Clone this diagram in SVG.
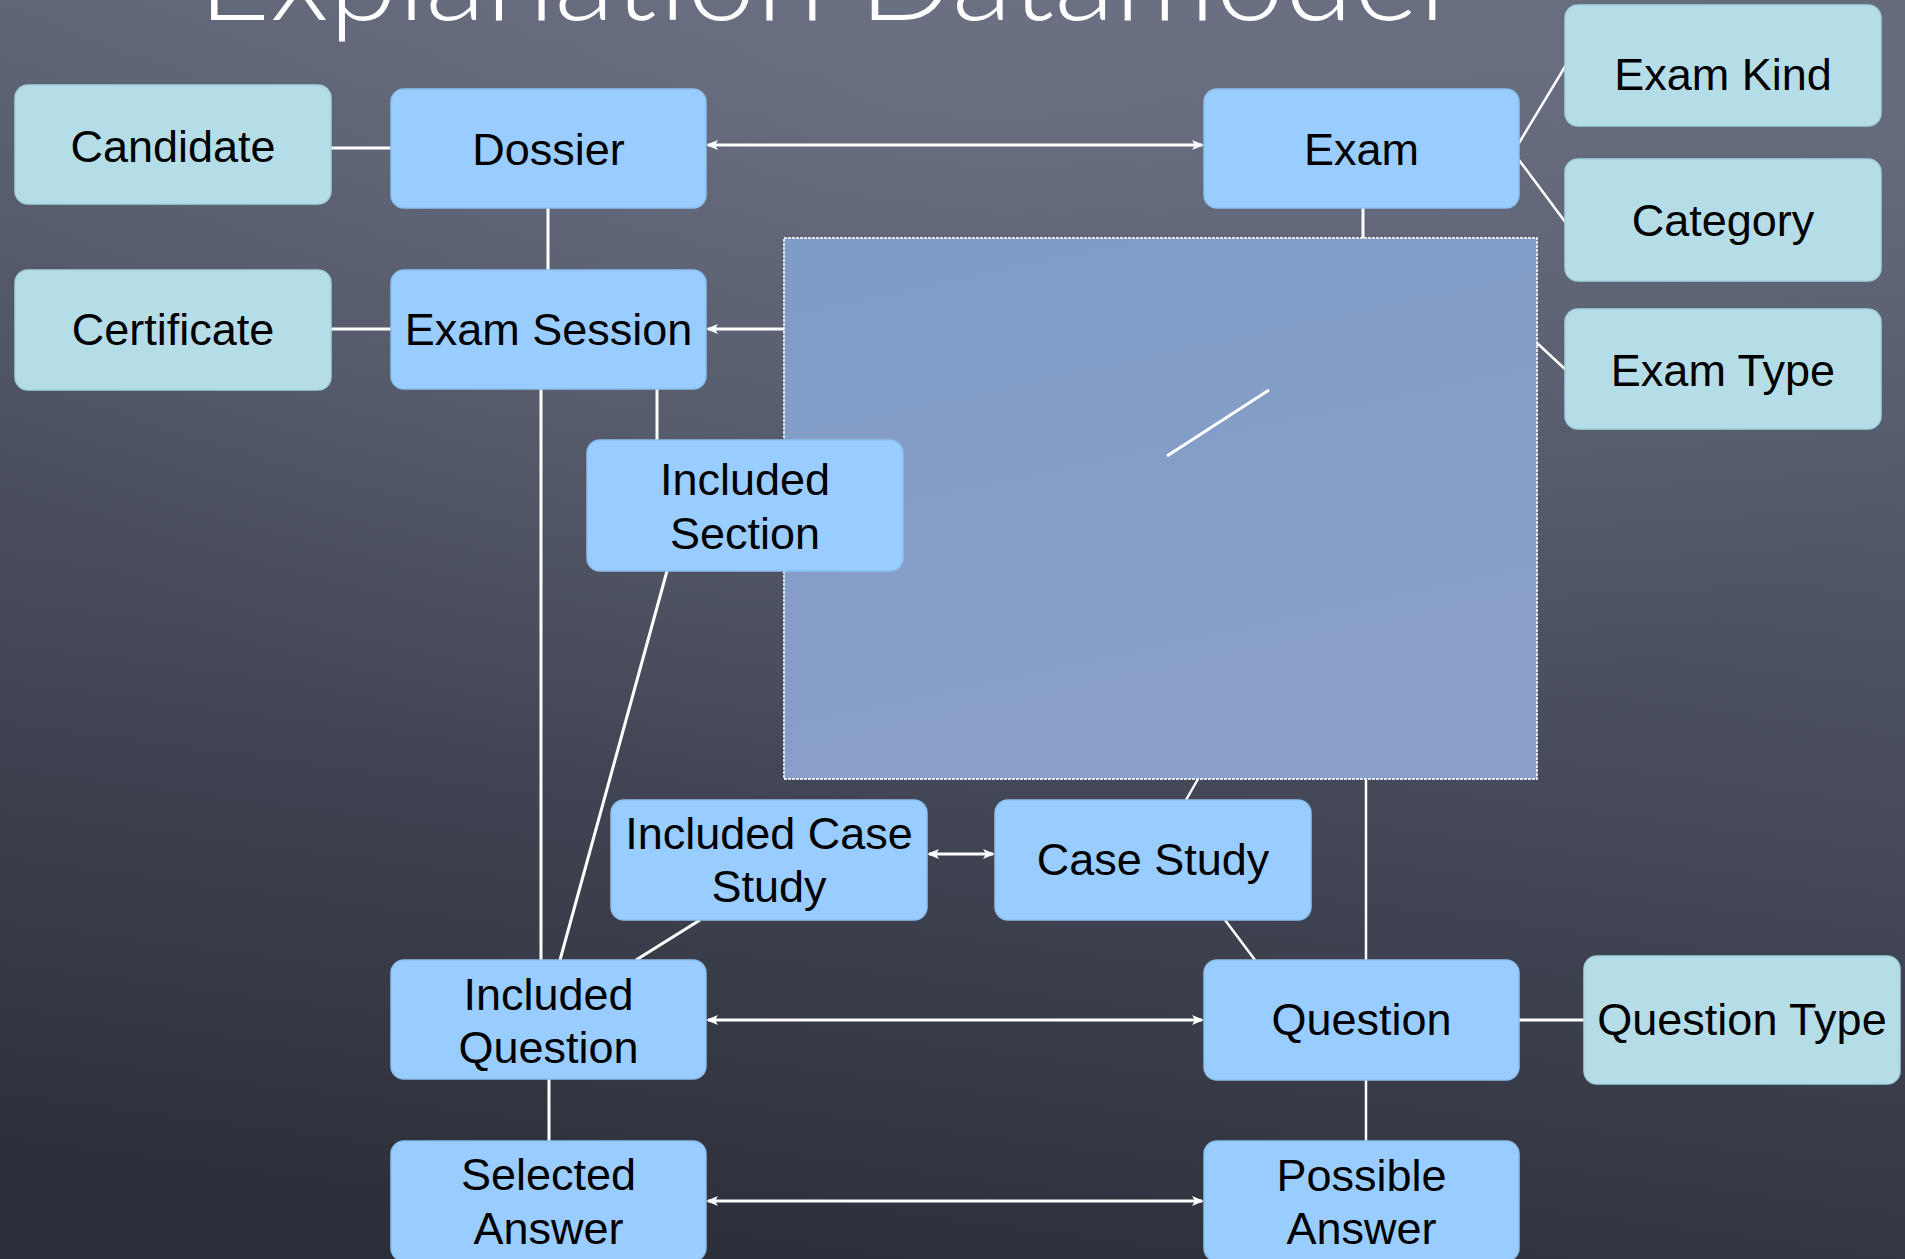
<svg xmlns="http://www.w3.org/2000/svg" width="1905" height="1259" viewBox="0 0 1905 1259">
  <defs>
    <linearGradient id="bg" x1="0.55" y1="0" x2="0.35" y2="1">
      <stop offset="0" stop-color="#646a7c"/>
      <stop offset="0.45" stop-color="#4b5060"/>
      <stop offset="1" stop-color="#2c2f39"/>
    </linearGradient>
    <radialGradient id="glow" cx="0.5" cy="0.05" r="0.6">
      <stop offset="0" stop-color="#7a8092" stop-opacity="0.35"/>
      <stop offset="1" stop-color="#7a8092" stop-opacity="0"/>
    </radialGradient>
    <linearGradient id="panelFill" x1="0" y1="0" x2="0.3" y2="1">
      <stop offset="0" stop-color="#7f9cc6"/>
      <stop offset="1" stop-color="#8a9fc9"/>
    </linearGradient>
    <marker id="arrow" viewBox="0 0 12 10" refX="10" refY="5" markerWidth="12" markerHeight="10" markerUnits="userSpaceOnUse" orient="auto-start-reverse">
      <path d="M0,0 L12,5 L0,10 L3,5 z" fill="#ffffff"/>
    </marker>
    <style>
      .main rect { fill: #99ccff; stroke: #8cc0f0; stroke-width: 1.5; }
      .attr rect { fill: #b5dde7; stroke: #a2d2de; stroke-width: 1.5; }
      .node text { font-family: "Liberation Sans", Arial, sans-serif; font-size: 45px; fill: #000000; text-anchor: middle; }
      .conn line { stroke: #ffffff; stroke-width: 3; fill: none; }
      .conn .thin { stroke-width: 2.5; }
      .arr { marker-end: url(#arrow); }
      .both { marker-start: url(#arrow); marker-end: url(#arrow); }
      .title { font-family: Lato, "Liberation Sans", Arial, sans-serif; font-weight: 300; font-size: 120px; fill: #ffffff; }
    </style>
  </defs>

  <rect x="0" y="0" width="1905" height="1259" fill="url(#bg)"/>
  <rect x="0" y="0" width="1905" height="1259" fill="url(#glow)"/>

  <text class="title" x="198" y="20" textLength="1248" lengthAdjust="spacingAndGlyphs">Explanation Datamodel</text>

  <g id="panel">
    <rect x="784" y="238" width="753" height="541" fill="url(#panelFill)" stroke="#dfe4ee" stroke-width="2" stroke-dasharray="3 1"/>
  </g>

  <g id="connectors" class="conn">
    <line x1="331" y1="148" x2="391" y2="148"/>
    <line class="both" x1="708" y1="145" x2="1202" y2="145"/>
    <line x1="548" y1="208" x2="548" y2="270"/>
    <line x1="331" y1="329" x2="391" y2="329"/>
    <line class="arr" x1="784" y1="329" x2="708" y2="329"/>
    <line x1="1363" y1="208" x2="1363" y2="238"/>
    <line class="thin" x1="1519" y1="143" x2="1566" y2="65"/>
    <line class="thin" x1="1519" y1="160" x2="1566" y2="223"/>
    <line class="thin" x1="1537" y1="343" x2="1566" y2="370"/>
    <line x1="657" y1="389" x2="657" y2="440"/>
    <line x1="541" y1="374" x2="541" y2="960"/>
    <line x1="667" y1="571" x2="560" y2="960"/>
    <line x1="700" y1="920" x2="636" y2="960"/>
    <line class="both" x1="929" y1="854" x2="993" y2="854"/>
    <line class="thin" x1="1198" y1="779" x2="1186" y2="800"/>
    <line class="thin" x1="1225" y1="920" x2="1255" y2="960"/>
    <line class="thin" x1="1366" y1="779" x2="1366" y2="960"/>
    <line class="both" x1="708" y1="1020" x2="1202" y2="1020"/>
    <line x1="1519" y1="1020" x2="1584" y2="1020"/>
    <line x1="549" y1="1079" x2="549" y2="1141"/>
    <line class="thin" x1="1366" y1="1080" x2="1366" y2="1141"/>
    <line class="both" x1="708" y1="1201" x2="1202" y2="1201"/>
    <line x1="1167" y1="456" x2="1269" y2="390"/>
  </g>

  <g id="candidate" class="node attr">
    <rect x="15" y="85" width="316" height="119" rx="13"/>
    <text x="173" y="162">Candidate</text>
  </g>
  <g id="dossier" class="node main">
    <rect x="391" y="89" width="315" height="119" rx="13"/>
    <text x="548.5" y="165">Dossier</text>
  </g>
  <g id="exam" class="node main">
    <rect x="1204" y="89" width="315" height="119" rx="13"/>
    <text x="1361.5" y="165">Exam</text>
  </g>
  <g id="exam-kind" class="node attr">
    <rect x="1565" y="5" width="316" height="121" rx="13"/>
    <text x="1723" y="90">Exam Kind</text>
  </g>
  <g id="category" class="node attr">
    <rect x="1565" y="159" width="316" height="122" rx="13"/>
    <text x="1723" y="236">Category</text>
  </g>
  <g id="exam-type" class="node attr">
    <rect x="1565" y="309" width="316" height="120" rx="13"/>
    <text x="1723" y="386">Exam Type</text>
  </g>
  <g id="certificate" class="node attr">
    <rect x="15" y="270" width="316" height="120" rx="13"/>
    <text x="173" y="345">Certificate</text>
  </g>
  <g id="exam-session" class="node main">
    <rect x="391" y="270" width="315" height="119" rx="13"/>
    <text x="548.5" y="345">Exam Session</text>
  </g>
  <g id="included-section" class="node main">
    <rect x="587" y="440" width="316" height="131" rx="13"/>
    <text x="745" y="495">Included</text>
    <text x="745" y="549">Section</text>
  </g>
  <g id="included-case-study" class="node main">
    <rect x="611" y="800" width="316" height="120" rx="13"/>
    <text x="769" y="849">Included Case</text>
    <text x="769" y="902">Study</text>
  </g>
  <g id="case-study" class="node main">
    <rect x="995" y="800" width="316" height="120" rx="13"/>
    <text x="1153" y="875">Case Study</text>
  </g>
  <g id="included-question" class="node main">
    <rect x="391" y="960" width="315" height="119" rx="13"/>
    <text x="548.5" y="1010">Included</text>
    <text x="548.5" y="1063">Question</text>
  </g>
  <g id="question" class="node main">
    <rect x="1204" y="960" width="315" height="120" rx="13"/>
    <text x="1361.5" y="1035">Question</text>
  </g>
  <g id="question-type" class="node attr">
    <rect x="1584" y="956" width="316" height="128" rx="13"/>
    <text x="1742" y="1035">Question Type</text>
  </g>
  <g id="selected-answer" class="node main">
    <rect x="391" y="1141" width="315" height="120" rx="13"/>
    <text x="548.5" y="1190">Selected</text>
    <text x="548.5" y="1244">Answer</text>
  </g>
  <g id="possible-answer" class="node main">
    <rect x="1204" y="1141" width="315" height="120" rx="13"/>
    <text x="1361.5" y="1191">Possible</text>
    <text x="1361.5" y="1244">Answer</text>
  </g>
</svg>
